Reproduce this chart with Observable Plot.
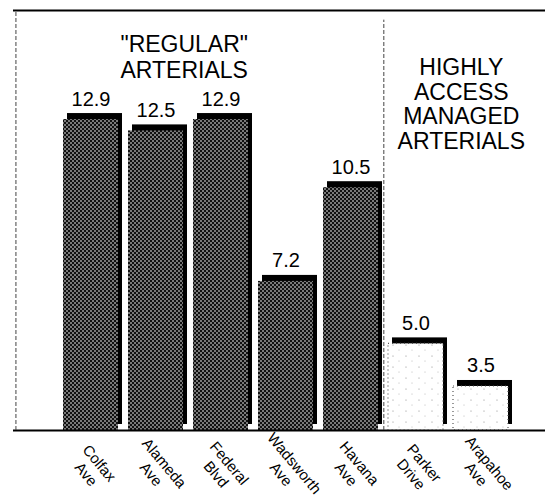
<!DOCTYPE html>
<html><head><meta charset="utf-8">
<script src="https://cdn.jsdelivr.net/npm/d3@7"></script>
<script src="https://cdn.jsdelivr.net/npm/@observablehq/plot@0.6"></script>
<style>body{margin:0;background:#fff} svg{display:block}</style>
</head><body><div id="chart"></div>
<script>
const streets = ["Colfax\nAve","Alameda\nAve","Federal\nBlvd","Wadsworth\nAve","Havana\nAve","Parker\nDrive","Arapahoe\nAve"];
const values = [12.9, 12.5, 12.9, 7.2, 10.5, 5.0, 3.5];
const valueLabels = ["12.9","12.5","12.9","7.2","10.5","5.0","3.5"];
const groups = ["regular","regular","regular","regular","regular","managed","managed"];
const groupTitles = ["\"REGULAR\"\nARTERIALS", "HIGHLY\nACCESS\nMANAGED\nARTERIALS"];
const yDomain = [1.95, 16.74];

const data = streets.map((s, i) => ({street: s, value: values[i], label: valueLabels[i], group: groups[i]}));
const regular = data.filter(d => d.group === "regular");
const managed = data.filter(d => d.group === "managed");

const xOpts = {type: "band", domain: streets, range: [50, 520], padding: 0.16};
const sx = Plot.scale({x: xOpts});
const step = sx.step;
const font = "Liberation Sans, Arial, Helvetica, sans-serif";

const chart = Plot.plot({
  width: 545,
  height: 501,
  marginTop: 10,
  marginBottom: 71,
  marginLeft: 13,
  marginRight: 0,
  style: {fontFamily: font, background: "#fff", color: "#000"},
  x: {...xOpts, axis: null},
  y: {domain: yDomain, axis: null},
  marks: [
    // 3D shadow (top cap + right side)
    Plot.barY(data, {x: "street", y1: yDomain[0], y2: "value", fill: "#000", dx: 4, dy: -6}),
    // faces
    Plot.barY(regular, {x: "street", y1: yDomain[0], y2: "value", fill: "url(#dark)"}),
    Plot.barY(managed, {x: "street", y1: yDomain[0], y2: "value", fill: "url(#light)", stroke: "#555", strokeDasharray: "1,3", strokeWidth: 1.2}),
    // frame lines
    Plot.ruleY([yDomain[1]], {stroke: "#000", strokeWidth: 2}),
    Plot.ruleY([yDomain[0]], {stroke: "#000", strokeWidth: 2}),
    Plot.ruleX([streets[0]], {y1: yDomain[0], y2: yDomain[1], dx: 13 - (sx.apply(streets[0]) + sx.bandwidth / 2), stroke: "#444", strokeDasharray: "4,2", strokeWidth: 1}),
    Plot.ruleX([streets[4]], {y1: yDomain[0], y2: 16.4, dx: step / 2, stroke: "#444", strokeDasharray: "4,2", strokeWidth: 1}),
    // value labels
    Plot.text(data, {x: "street", y: "value", text: "label", dy: -14, lineAnchor: "bottom", fontSize: 20, fill: "#000"}),
    // category labels
    Plot.text(data, {x: "street", y: yDomain[0], text: "street", rotate: 50, dy: 38, dx: 2, fontSize: 15, lineHeight: 1.15, fill: "#000"}),
    // group titles
    Plot.text([groupTitles[0]], {x: () => streets[1], y: () => 15.93, text: d => d, dx: step * 0.43, lineAnchor: "top", fontSize: 23, lineHeight: 1.12, fill: "#000"}),
    Plot.text([groupTitles[1]], {x: () => streets[6], y: () => 15.08, text: d => d, dx: -step * 0.3, lineAnchor: "top", fontSize: 23, lineHeight: 1.07, fill: "#000"})
  ]
});

chart.insertAdjacentHTML("afterbegin", `<defs>
  <pattern id="dark" width="4" height="4" patternUnits="userSpaceOnUse">
    <rect width="4" height="4" fill="#111"/>
    <circle cx="1" cy="1" r="0.8" fill="#fff"/>
    <circle cx="3" cy="3" r="0.8" fill="#fff"/>
  </pattern>
  <pattern id="light" width="13" height="11" patternUnits="userSpaceOnUse">
    <rect width="13" height="11" fill="#fff"/>
    <circle cx="3" cy="4" r="0.6" fill="#888"/>
    <circle cx="9" cy="9" r="0.5" fill="#aaa"/>
  </pattern>
</defs>`);
document.getElementById("chart").appendChild(chart);
</script>
</body></html>
